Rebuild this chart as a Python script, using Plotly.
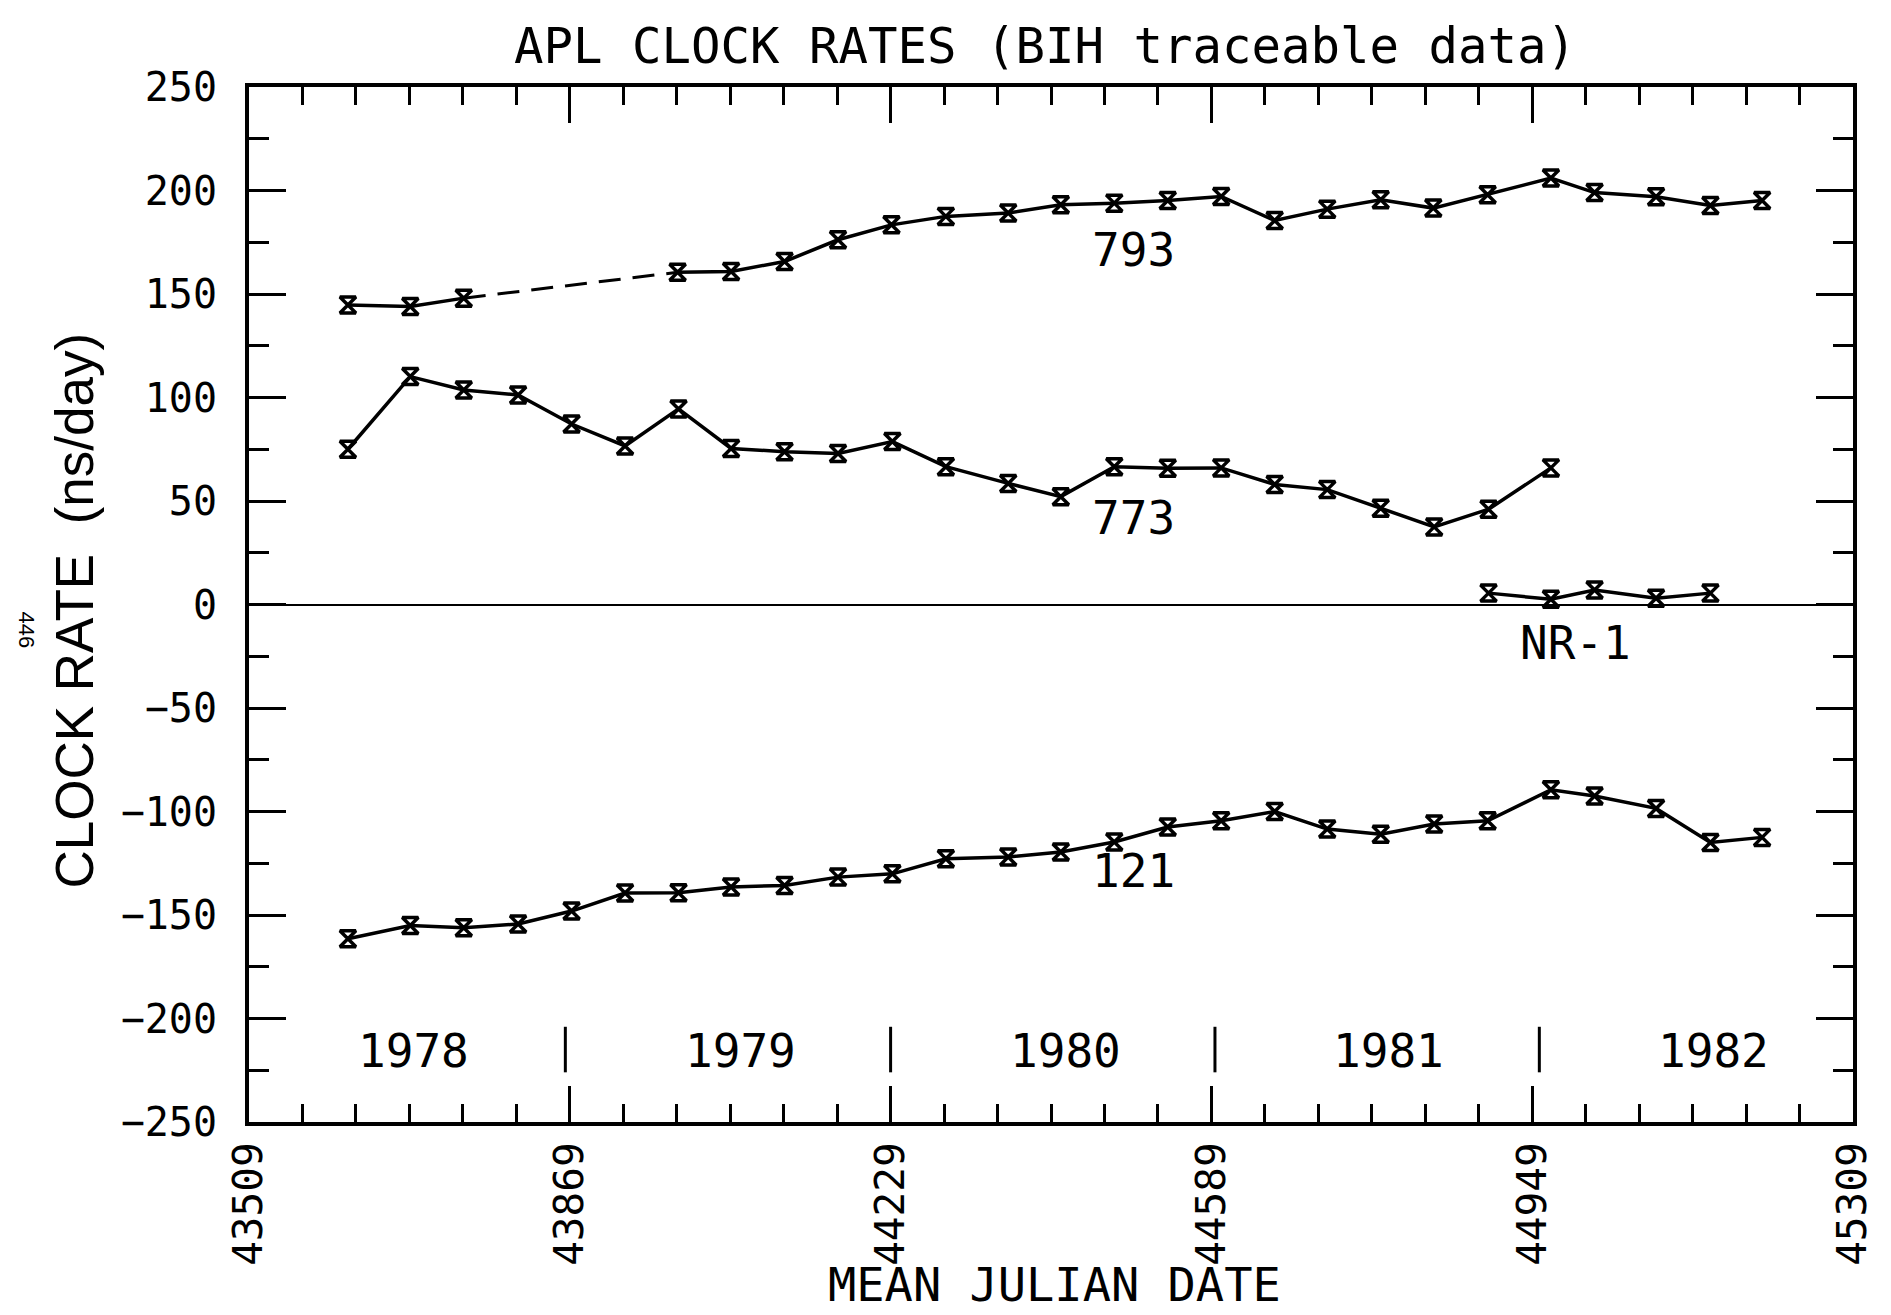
import plotly.graph_objects as go

# Clock rates (MJD, ns/day)
mjd_793 = [43620, 43690, 43750, 43990, 44050, 44110, 44170, 44230, 44291, 44361, 44420, 44480,
           44540, 44600, 44660, 44719, 44779, 44838, 44899, 44970, 45019, 45088, 45149, 45207]
rate_793 = [144.7, 144.0, 148.0, 160.5, 160.9, 165.7, 176.2, 183.4, 187.5, 189.1, 193.1, 193.9,
            195.2, 197.1, 185.5, 191.0, 195.5, 191.5, 198.0, 206.0, 199.0, 197.0, 192.8, 195.2]

mjd_773 = [43620, 43690, 43750, 43811, 43871, 43931, 43991, 44050, 44110, 44170, 44231, 44291,
           44361, 44420, 44480, 44540, 44600, 44660, 44719, 44779, 44839, 44900, 44970]
rate_773 = [75.0, 110.1, 103.6, 101.2, 87.2, 76.6, 94.5, 75.4, 73.8, 73.0, 78.7, 66.6,
            58.5, 52.1, 66.6, 65.8, 66.0, 58.0, 55.5, 46.5, 37.5, 46.0, 66.0]

mjd_nr1 = [44900, 44970, 45019, 45088, 45149]
rate_nr1 = [5.5, 2.5, 7.0, 3.0, 5.5]

mjd_121 = [43620, 43690, 43750, 43811, 43871, 43931, 43991, 44050, 44110, 44170, 44231, 44291,
           44361, 44420, 44480, 44540, 44600, 44660, 44719, 44779, 44839, 44899, 44970, 45019,
           45088, 45149, 45207]
rate_121 = [-161.5, -155.1, -156.2, -154.3, -148.1, -139.4, -139.2, -136.5, -135.7, -131.7, -130.1, -122.8,
            -122.0, -119.6, -114.7, -107.5, -104.5, -100.0, -108.5, -111.0, -106.0, -104.5, -89.5, -92.5,
            -98.5, -115.0, -112.5]

# Series labels
series_names = ["793", "773", "NR-1", "121"]
series_label_mjd = [44502, 44502, 44998, 44502]
series_label_rate = [171.3, 41.6, -18.4, -128.5]

# Year labels along the bottom and the separators between them
year_labels = ["1978", "1979", "1980", "1981", "1982"]
year_label_mjd = [43694, 44060, 44425, 44788, 45153]
year_label_rate = -215.5
year_sep_mjd = [43864, 44229, 44593, 44957]
year_sep_rate = [-204, -226]

MONO = "DejaVu Sans Mono"
SANS = "Liberation Sans"

line_style = dict(color="black", width=3.5)
marker_style = dict(symbol="hourglass-open", size=16, color="black", line=dict(color="black", width=3.5))

fig = go.Figure()

# 793: solid up to the gap, dashed across it, then solid again
fig.add_trace(go.Scatter(x=mjd_793[:3], y=rate_793[:3], mode="lines+markers",
                         line=line_style, marker=marker_style))
fig.add_trace(go.Scatter(x=mjd_793[2:4], y=rate_793[2:4], mode="lines",
                         line=dict(color="black", width=3, dash="22px,12px")))
fig.add_trace(go.Scatter(x=mjd_793[3:], y=rate_793[3:], mode="lines+markers",
                         line=line_style, marker=marker_style))

for xs, ys in [(mjd_773, rate_773), (mjd_nr1, rate_nr1), (mjd_121, rate_121)]:
    fig.add_trace(go.Scatter(x=xs, y=ys, mode="lines+markers", line=line_style, marker=marker_style))

# Series labels
for name, xv, yv in zip(series_names, series_label_mjd, series_label_rate):
    fig.add_annotation(x=xv, y=yv, text=name, showarrow=False, xanchor="center", yanchor="middle",
                       font=dict(family=MONO, size=46, color="black"))

# Year labels and separators
for label, xv in zip(year_labels, year_label_mjd):
    fig.add_annotation(x=xv, y=year_label_rate, text=label, showarrow=False, xanchor="center",
                       yanchor="middle", font=dict(family=MONO, size=46, color="black"))
for xv in year_sep_mjd:
    fig.add_shape(type="line", x0=xv, x1=xv, y0=year_sep_rate[0], y1=year_sep_rate[1],
                  xref="x", yref="y", line=dict(color="black", width=3))

# Title, axis titles and the page number
fig.add_annotation(x=0.496, y=1.0396, xref="paper", yref="paper", text="APL CLOCK RATES (BIH traceable data)",
                   showarrow=False, xanchor="center", yanchor="middle",
                   font=dict(family=MONO, size=49, color="black"))
fig.add_annotation(x=0.502, y=-0.157, xref="paper", yref="paper", text="MEAN JULIAN DATE",
                   showarrow=False, xanchor="center", yanchor="middle",
                   font=dict(family=MONO, size=47, color="black"))
fig.add_annotation(x=-0.1094, y=0.4937, xref="paper", yref="paper", text="CLOCK RATE\u00a0\u00a0(ns/day)",
                   textangle=-90, showarrow=False, xanchor="center", yanchor="middle",
                   font=dict(family=SANS, size=53, color="black"))
fig.add_annotation(x=-0.1387, y=0.4754, xref="paper", yref="paper", text="446",
                   textangle=90, showarrow=False, xanchor="center", yanchor="middle",
                   font=dict(family=SANS, size=22, color="black"))

# The page body adds a small margin, so the figure is sized to fit inside it
fig.update_layout(
    width=1875,
    height=1307,
    margin=dict(l=241, r=30, t=79, b=193),
    paper_bgcolor="white",
    plot_bgcolor="white",
    showlegend=False,
    xaxis=dict(
        range=[43509, 45309],
        tick0=43509,
        dtick=360,
        tickformat="d",
        tickangle=-90,
        ticks="inside",
        ticklen=36,
        tickwidth=3,
        tickcolor="black",
        minor=dict(ticks="inside", ticklen=18, tickwidth=3, tickcolor="black", dtick=60, tick0=43509),
        showline=True,
        linewidth=4,
        linecolor="black",
        mirror="ticks",
        showgrid=False,
        zeroline=False,
        automargin=False,
        ticklabelstandoff=0,
        tickfont=dict(family=MONO, size=41, color="black"),
    ),
    yaxis=dict(
        range=[-250, 250],
        tick0=0,
        dtick=50,
        ticks="inside",
        ticklen=37,
        tickwidth=3,
        tickcolor="black",
        minor=dict(ticks="inside", ticklen=20, tickwidth=3, tickcolor="black", dtick=25, tick0=0),
        showline=True,
        linewidth=4,
        linecolor="black",
        mirror="ticks",
        showgrid=False,
        zeroline=True,
        zerolinecolor="black",
        zerolinewidth=2,
        automargin=False,
        ticklabelstandoff=20,
        tickfont=dict(family=MONO, size=40, color="black"),
    ),
)

fig.write_html("out.html")
